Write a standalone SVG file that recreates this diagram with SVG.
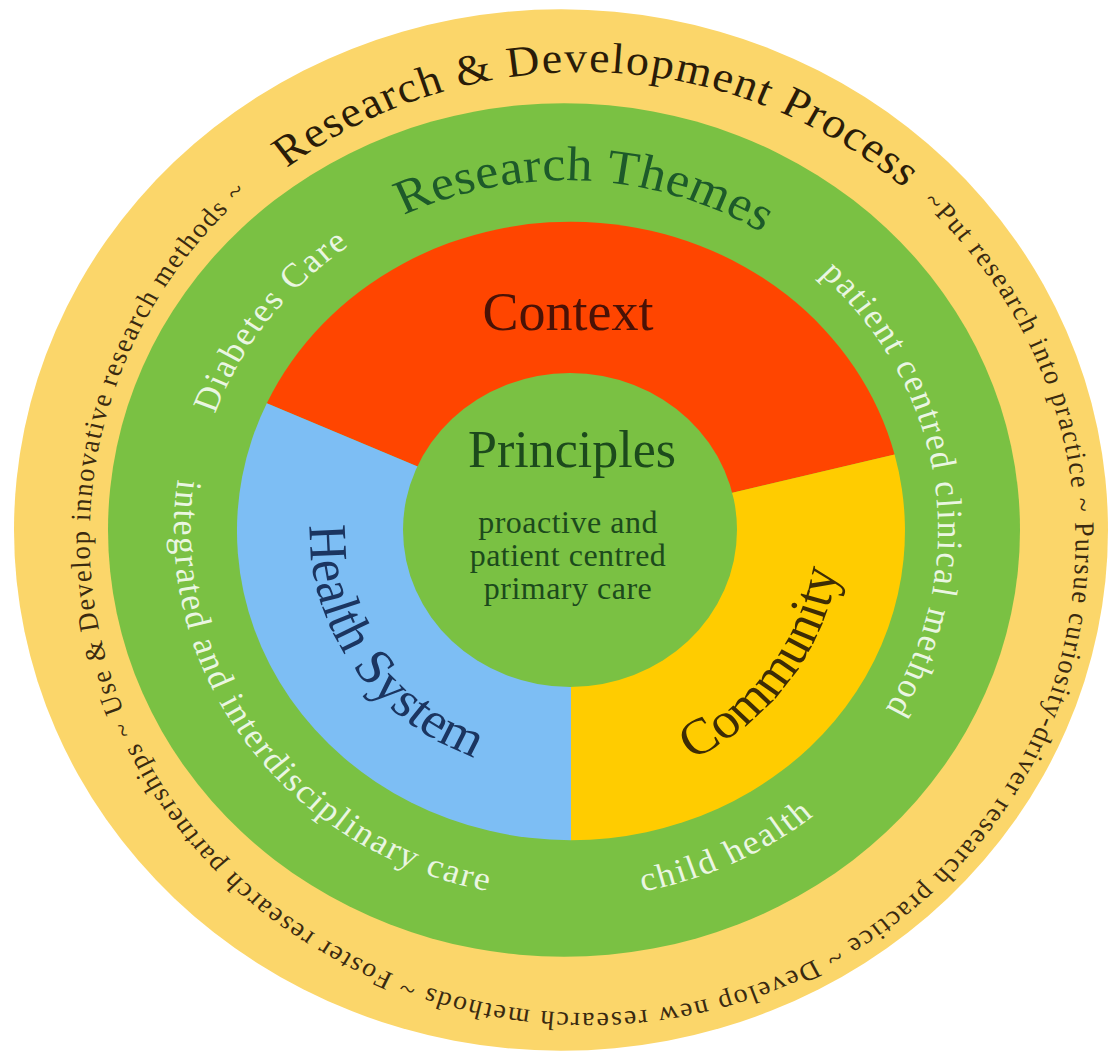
<svg xmlns="http://www.w3.org/2000/svg" width="1112" height="1052" viewBox="0 0 1112 1052">
<defs>
<style>
 .serif{font-family:"Liberation Serif","DejaVu Serif",serif}
 .outer{font-size:28px;fill:#3a2a10;letter-spacing:1.8px}
 .title{font-size:46px;fill:#2a1c08;letter-spacing:1.5px}
 .theme{font-size:52px;fill:#1d5a2a;letter-spacing:0.5px}
 .sub{font-size:36px;fill:#eaf6e2;letter-spacing:2px}
 .big{font-size:54px}
 .ring-yellow{fill:#FBD66A}
 .ring-green{fill:#7AC143}
</style>
<path id="pOuterA" d="M16.5,510.7 A487.5,499 0 1 1 16.5,-487.3 A487.5,499 0 1 1 16.5,510.7"/>
<path id="pOuterB" d="M260.25,-420.4 A487.5,499 0 1 1 -227.25,443.8 A487.5,499 0 1 1 260.25,-420.4"/>
<path id="pGreenCW" d="M0,372 A372,372 0 1 1 0,-372 A372,372 0 1 1 0,372"/>
<path id="pGreenCCW" d="M-368.4,-134.1 A392,392 0 1 0 368.4,134.1 A392,392 0 1 0 -368.4,-134.1"/>
<path id="pInnerCCW" d="M-239.6,-87.2 A255,255 0 1 0 239.6,87.2 A255,255 0 1 0 -239.6,-87.2"/>
<path id="pInnerCCW2" d="M-258.4,-94.1 A275,275 0 1 0 258.4,94.1 A275,275 0 1 0 -258.4,-94.1"/>
</defs>
<rect width="1112" height="1052" fill="#ffffff"/>
<g transform="translate(566,530) scale(1,0.94)">
  <g id="research-development-process">
    <ellipse class="ring-yellow" cx="-5" cy="0" rx="547" ry="554"/>
    <text class="serif title"><textPath href="#pOuterA" startOffset="50.56%" text-anchor="middle">Research &amp; Development Process</textPath></text>
    <text class="serif outer"><textPath href="#pOuterB" startOffset="120">~Put research into practice ~ Pursue curiosity-driver research practice ~ Develop new research methods ~ Foster research partnerships ~ Use &amp; Develop innovative research methods ~</textPath></text>
  </g>
  <g id="research-themes">
    <ellipse class="ring-green" cx="-2" cy="0" rx="456" ry="454"/>
    <text class="serif theme"><textPath href="#pGreenCW" startOffset="50.83%" text-anchor="middle">Research Themes</textPath></text>
    <text class="serif sub"><textPath href="#pGreenCW" startOffset="35.28%" text-anchor="middle">Diabetes Care</textPath></text>
    <text class="serif sub"><textPath href="#pGreenCW" startOffset="72.8%" text-anchor="middle">patient centred clinical method</textPath></text>
    <text class="serif sub" letter-spacing="1.5"><textPath href="#pGreenCCW" startOffset="15.4%" text-anchor="middle">integrated and interdisciplinary care</textPath></text>
    <text class="serif sub" letter-spacing="1"><textPath href="#pGreenCCW" startOffset="37.6%" text-anchor="middle">child health</textPath></text>
  </g>
  <g id="context">
    <path d="M5,1 L-299.2,-134.9 A334,329 0 0 1 328.6,-80.3 Z" fill="#FF4500"/>
  </g>
  <g id="community">
    <path d="M5,1 L328.6,-80.3 A334,329 0 0 1 5,330 Z" fill="#FFCC00"/>
    <text class="serif big" fill="#3d2c05"><textPath href="#pInnerCCW2" startOffset="45.6%" text-anchor="middle">Community</textPath></text>
  </g>
  <g id="health-system">
    <path d="M5,1 L5,330 A334,329 0 0 1 -299.2,-134.9 Z" fill="#7DBEF4"/>
    <text class="serif big" fill="#1b3560"><textPath href="#pInnerCCW" startOffset="15.0%" text-anchor="middle">Health System</textPath></text>
  </g>
  <g id="principles">
    <circle class="ring-green" cx="4" cy="0" r="167"/>
  </g>
</g>
<g id="context-label">
  <text class="serif" x="568" y="330" font-size="54" fill="#4a1206" text-anchor="middle">Context</text>
</g>
<g id="principles-label" class="serif" fill="#1c4a1c" text-anchor="middle">
  <text x="572" y="467" font-size="52">Principles</text>
  <text x="568" y="533" font-size="32" letter-spacing="0.5">proactive and</text>
  <text x="568" y="566" font-size="32" letter-spacing="0.5">patient centred</text>
  <text x="568" y="599" font-size="32" letter-spacing="0.5">primary care</text>
</g>
<g id="connectors"/>
</svg>
